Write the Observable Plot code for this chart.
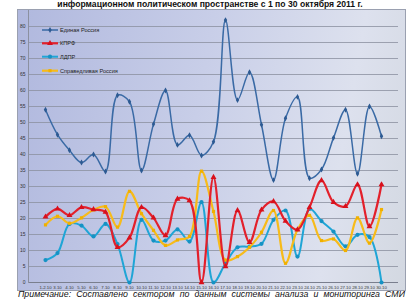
<!DOCTYPE html>
<html><head><meta charset="utf-8">
<script src="https://cdn.jsdelivr.net/npm/d3@7"></script>
<script src="https://cdn.jsdelivr.net/npm/@observablehq/plot@0.6"></script>
<style>
body{margin:0;background:#fff;}
#wrap{position:relative;width:420px;height:300px;overflow:hidden;font-family:"Liberation Sans",Arial,sans-serif;background:#fff;}
#title{position:absolute;left:0;top:-1px;width:420px;text-align:center;font-weight:bold;font-size:8.6px;line-height:10px;color:#111;white-space:nowrap;}
#box{position:absolute;left:17px;top:9px;width:387px;height:280px;border:1px solid #9aa0b0;background:linear-gradient(100deg,#b0b8de 0%,#c8cee8 45%,#dde1ee 80%,#d3d8e1 100%);}
#chart{position:absolute;left:0;top:0;}
#legend{position:absolute;left:0;top:0;}
#note{position:absolute;left:18px;top:290px;width:387px;font-style:italic;font-size:8.8px;text-align:justify;text-align-last:justify;line-height:9.5px;color:#111;}
</style>
</head><body>
<div id="wrap">
  <div id="title">информационном политическом пространстве с 1 по 30 октября 2011 г.</div>
  <div id="box"></div>
  <div id="chart"></div>
  <svg id="legend" width="420" height="300"></svg>
  <div id="note">Примечание: Составлено сектором по данным системы анализа и мониторинга СМИ</div>
</div>
<script>
const dates = ["1-2.10","3.10","4.10","5.10","6.10","7.10","8.10","9.10","10.10","11.10","12.10","13.10","14.10","15.10","16.10","17.10","18.10","19.10","20.10","21.10","22.10","23.10","24.10","25.10","26.10","27.10","28.10","29.10","30.10"];
const seriesNames = ["Единая Россия","КПРФ","ЛДПР","Справедливая Россия"];
const edinayaRossiya = [54,46.2,41.3,37.5,40,34.7,58.5,56.5,35,49.5,60,43,46,39.7,44,82,57,65.7,49.3,32,51.3,58,32.6,35.3,45.2,54,34,55,45.7];
const kprf = [20.5,23,21,23.5,22.8,22,11,14,23.5,20.2,14.7,26.1,25.6,0,32.9,5,22.5,12.6,22.7,25.3,19.2,16.5,23.5,31.9,25.1,23.8,30.6,17.5,30.6];
const ldpr = [7,9.2,18.3,17.8,14.4,18.3,12,0,19.6,13.1,13.1,16.6,12.8,25.1,0,6,11,11.2,12.1,19.6,22.5,8.1,23,19.2,15.9,11.3,14.9,14.2,0];
const spravRossiya = [18,20.7,18.5,20.2,22.7,23.7,17.3,28.5,21.5,16.3,11.6,13.3,14.4,34.8,22.2,7,8.1,11,15.7,22.5,6,16.5,21,13.1,13.6,10,20.2,12.3,22.8];
const yTicks = [0,5,10,15,20,25,30,35,40,45,50,55,60,65,70,75,80];

const values = [edinayaRossiya,kprf,ldpr,spravRossiya];
const styles = {
  "Единая Россия": {stroke:"#3a6aa5", width:1.5, symbol:"diamond", r:1.8, fill:"#2d5a92"},
  "КПРФ": {stroke:"#e3202b", width:2.2, symbol:"triangle", r:2.2, fill:"#d8101c"},
  "ЛДПР": {stroke:"#1fa5d6", width:2, symbol:"circle", r:2.1, fill:"#1592c4"},
  "Справедливая Россия": {stroke:"#f7bb1a", width:2.2, symbol:"square", r:1.8, fill:"#f0b000"}
};
const rows = [];
seriesNames.forEach((s,k)=>dates.forEach((d,i)=>rows.push({series:s,date:d,value:values[k][i]})));
const drawOrder = ["ЛДПР","Справедливая Россия","КПРФ","Единая Россия"];

const marks = [
  Plot.ruleY(yTicks.filter(v=>v>0), {y:d=>d, stroke:"#8b90a0", strokeWidth:0.8, insetLeft:-6, insetRight:-6}),
  Plot.ruleY([0], {y:d=>d, stroke:"#7a7f8e", strokeWidth:1, insetLeft:-6, insetRight:-6}),
  Plot.frame({anchor:"left", insetLeft:-6, stroke:"#8b90a0"}),
  Plot.axisY(yTicks, {tickSize:0, tickPadding:9, fontSize:5, fill:"#333"}),
  Plot.axisX({tickSize:0, tickPadding:3, fontSize:4.3, fill:"#333"})
];
for (const s of drawOrder) {
  const st = styles[s];
  const data = rows.filter(r=>r.series===s);
  marks.push(Plot.line(data, {x:"date", y:"value", stroke:st.stroke, strokeWidth:st.width, curve:"catmull-rom", clip:"frame"}));
  marks.push(Plot.dot(data, {x:"date", y:"value", symbol:()=>st.symbol, r:st.r, fill:st.fill, stroke:"none"}));
}

const chart = Plot.plot({
  width:420, height:292,
  marginLeft:34, marginRight:28, marginTop:10, marginBottom:10,
  style:{background:"transparent", fontFamily:"Liberation Sans, Arial, sans-serif"},
  x:{type:"point", domain:dates, padding:0, label:null},
  y:{domain:[0,85], label:null},
  symbol:{type:"identity"},
  marks
});
document.getElementById("chart").appendChild(chart);

// legend
const lg = d3.select("#legend");
const ly = [30,43.3,56.7,70.7];
seriesNames.forEach((s,i)=>{
  const st = styles[s];
  lg.append("line").attr("x1",42).attr("x2",58).attr("y1",ly[i]).attr("y2",ly[i]).attr("stroke",st.stroke).attr("stroke-width",st.width);
  lg.append("path").attr("d", d3.symbol(st.symbol==="diamond"?d3.symbolDiamond:st.symbol==="triangle"?d3.symbolTriangle:st.symbol==="square"?d3.symbolSquare:d3.symbolCircle, Math.PI*st.r*st.r)()).attr("transform",`translate(50,${ly[i]})`).attr("fill",st.fill);
  lg.append("text").attr("x",60).attr("y",ly[i]).attr("dy","0.35em").attr("font-size",5.6).attr("fill","#222").attr("font-family","Liberation Sans, Arial, sans-serif").text(s);
});
</script>
</body></html>
